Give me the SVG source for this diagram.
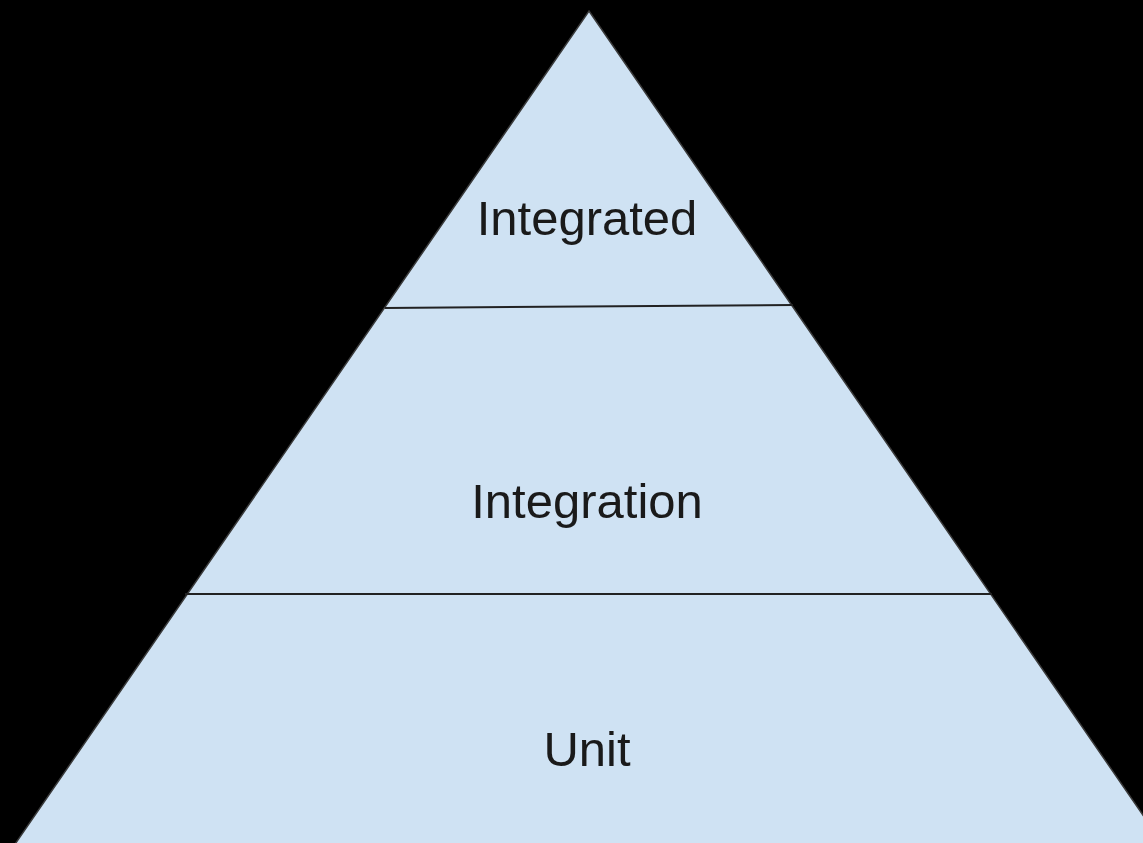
<svg xmlns="http://www.w3.org/2000/svg" width="1143" height="843" viewBox="0 0 1143 843">
<style>
.lbl{font-family:"Liberation Sans",Arial,sans-serif;font-size:49px;fill:#1a1a1a;text-anchor:middle}
.sep{stroke:#222;stroke-width:2;fill:none}
</style>
<rect x="0" y="0" width="1143" height="843" fill="#000"/>
<g id="pyramid">
<polygon points="589,11 1167,850 11,850" fill="#cfe2f3" stroke="#3a3a3a" stroke-width="1.5"/>
</g>
<g id="connectors">
<line class="sep" x1="385" y1="308" x2="793" y2="305"/>
<line class="sep" x1="185" y1="594" x2="992" y2="594"/>
</g>
<g id="integrated"><text class="lbl" x="587" y="235">Integrated</text></g>
<g id="integration"><text class="lbl" x="587" y="518">Integration</text></g>
<g id="unit"><text class="lbl" x="587" y="766">Unit</text></g>
</svg>
